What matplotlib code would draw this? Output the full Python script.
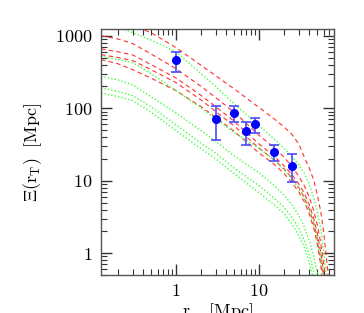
import matplotlib
matplotlib.use("Agg")
import matplotlib.pyplot as plt
from matplotlib.ticker import LogLocator, NullFormatter, FixedLocator, FixedFormatter

# measured points (r_p in Mpc, Xi in Mpc, lower / upper error bar ends)
r_obs = [1.0, 3.0, 5.0, 6.9, 9.0, 15.0, 25.0]
xi_obs = [457, 71, 86, 48, 60, 25, 16]
xi_lo = [316, 36, 64, 31, 45, 18.4, 9.7]
xi_hi = [597, 106, 107, 64, 73, 31, 23]

# model curves
r_grid = [0.125, 0.2, 0.3, 0.5, 1, 2, 3, 5, 10, 15, 20, 25, 30, 35, 40, 45, 50, 55, 60, 65, 70]
red_a = [2000, 1700, 1400, 1100, 684, 390, 280, 185, 102, 72, 55, 43, 32, 21, 15, 10.5, 6.5, 3.8, 1.9, 0.8, 0.3]
red_b = [1000, 900, 780, 560, 350, 200, 140, 88, 42, 29, 21, 15.5, 11.5, 8.5, 6.0, 4.0, 2.5, 1.4, 0.7, 0.3, 0.1]
red_c = [658, 600, 543, 400, 260, 150, 105, 66, 32, 22, 16, 12, 9.0, 6.7, 4.7, 3.1, 1.9, 1.05, 0.5, 0.2, 0.1]
red_d = [548, 500, 453, 340, 225, 130, 90, 57, 28, 19.5, 14.5, 10.8, 8.0, 5.9, 4.1, 2.7, 1.6, 0.85, 0.4, 0.15, 0.1]
red_e = [468, 410, 340, 260, 174, 105, 75, 48, 24, 17, 12.5, 9.3, 7.0, 5.1, 3.5, 2.3, 1.35, 0.7, 0.3, 0.1, 0.1]
green_a = [1500, 1300, 1100, 870, 600, 300, 200, 115, 57, 38, 28, 21.5, 16.5, 12.5, 9.0, 6.0, 3.8, 2.2, 1.0, 0.4, 0.15]
green_b = [520, 470, 425, 300, 175, 100, 72, 46, 28, 19.5, 14, 10.5, 7.8, 5.6, 3.9, 2.6, 1.6, 0.9, 0.45, 0.2, 0.1]
green_c = [275, 245, 210, 144, 86, 49, 35, 22, 12.8, 8.6, 6.3, 4.6, 3.3, 2.3, 1.5, 0.95, 0.55, 0.28, 0.1, 0.1, 0.1]
green_d = [190, 170, 149, 105, 59, 33, 24, 15, 8.5, 5.8, 4.3, 3.1, 2.2, 1.5, 0.95, 0.58, 0.32, 0.15, 0.1, 0.1, 0.1]
green_e = [162, 145, 127, 88, 49, 27.5, 20, 12.5, 6.8, 4.7, 3.5, 2.5, 1.75, 1.2, 0.75, 0.45, 0.25, 0.1, 0.1, 0.1, 0.1]

plt.rcParams["mathtext.fontset"] = "cm"
plt.rcParams["font.family"] = "serif"
plt.rcParams["font.serif"] = ["cmr10", "DejaVu Serif"]

fig = plt.figure(figsize=(3.64, 3.13), dpi=100)
ax = fig.add_axes([0.2775, 0.1214, 0.6406, 0.7850])

for ys in [red_a, red_b, red_c, red_d, red_e]:
    ax.plot(r_grid, ys, color="#ff3030", ls=(0, (4, 3)), lw=0.8)
for ys in [green_a, green_b, green_c, green_d, green_e]:
    ax.plot(r_grid, ys, color="#40ff40", ls=(0, (1, 1.5)), lw=1.0)

yerr = [[v - lo for v, lo in zip(xi_obs, xi_lo)], [hi - v for v, hi in zip(xi_obs, xi_hi)]]
ax.errorbar(r_obs, xi_obs, yerr=yerr, fmt="o", color="#0000ff", ecolor="#4a4aff",
            ms=5.5, capsize=3.5, elinewidth=1.2, capthick=1.2, zorder=5)

ax.set_xscale("log")
ax.set_yscale("log")
ax.set_xlim(0.125, 80)
ax.set_ylim(0.5, 1225)

ax.xaxis.set_major_locator(FixedLocator([1, 10]))
ax.xaxis.set_major_formatter(FixedFormatter(["$1$", "$10$"]))
ax.yaxis.set_major_locator(FixedLocator([1, 10, 100, 1000]))
ax.yaxis.set_major_formatter(FixedFormatter(["$1$", "$10$", "$100$", "$1000$"]))
ax.xaxis.set_minor_locator(LogLocator(base=10, subs=range(2, 10)))
ax.yaxis.set_minor_locator(LogLocator(base=10, subs=range(2, 10)))
ax.xaxis.set_minor_formatter(NullFormatter())
ax.yaxis.set_minor_formatter(NullFormatter())

ax.tick_params(which="both", direction="in", top=True, right=True, color="#333333")
ax.tick_params(which="major", length=8, width=1.0, labelsize=13, pad=6)
ax.tick_params(which="minor", length=4, width=0.8)
for s in ax.spines.values():
    s.set_color("#555555")
    s.set_linewidth(1.0)

ax.set_xlabel(r"$\mathrm{r_p\ \ [Mpc]}$", fontsize=13, labelpad=2)
ax.set_ylabel(r"$\Xi(\mathrm{r_T})\ \ \mathrm{[Mpc]}$", fontsize=13, labelpad=8)

fig.savefig("out.png", dpi=100)
